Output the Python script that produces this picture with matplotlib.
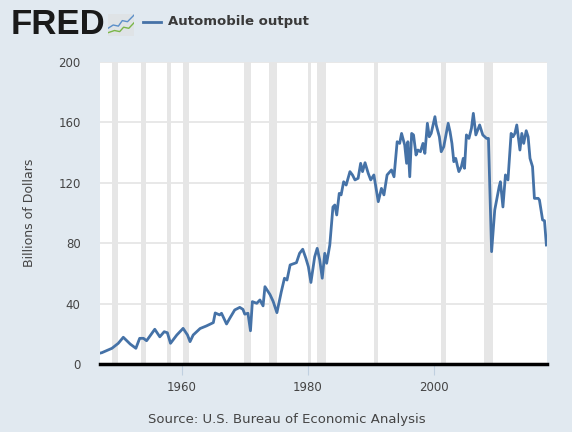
import numpy as np
import matplotlib.pyplot as plt

# Automobile output, billions of dollars
years = [1947.0, 1947.3, 1948.9, 1949.9, 1950.7, 1951.8, 1952.7, 1953.3, 1953.9, 1954.4,
         1955.7, 1956.5, 1957.2, 1957.7, 1958.2, 1959.2, 1960.2, 1960.9, 1961.3, 1961.8,
         1962.9, 1963.9, 1965.0, 1965.3, 1966.0, 1966.3, 1967.1, 1967.6, 1968.4, 1969.2,
         1969.7, 1970.0, 1970.5, 1970.9, 1971.2, 1971.9, 1972.4, 1972.9, 1973.2, 1974.0,
         1974.5, 1975.1, 1975.8, 1976.3, 1976.7, 1977.2, 1978.2, 1978.7, 1979.2, 1979.7,
         1980.1, 1980.5, 1981.1, 1981.5, 1981.9, 1982.3, 1982.7, 1983.0, 1983.5, 1984.0,
         1984.3, 1984.6, 1985.0, 1985.3, 1985.7, 1986.1, 1986.7, 1987.1, 1987.5, 1988.0,
         1988.4, 1988.7, 1989.1, 1989.6, 1990.0, 1990.5, 1990.9, 1991.2, 1991.7, 1992.1,
         1992.6, 1993.3, 1993.7, 1994.2, 1994.6, 1994.9, 1995.4, 1995.7, 1995.9, 1996.2,
         1996.5, 1996.8, 1997.2, 1997.5, 1997.9, 1998.3, 1998.6, 1999.0, 1999.3, 1999.6,
         2000.2, 2000.4, 2000.9, 2001.2, 2001.6, 2001.9, 2002.3, 2002.6, 2002.9, 2003.2,
         2003.5, 2003.8, 2004.0, 2004.4, 2004.7, 2004.9, 2005.2, 2005.6, 2006.0, 2006.3,
         2006.7, 2007.3, 2007.8, 2008.4, 2008.7, 2009.2, 2009.7, 2010.4, 2010.6, 2011.0,
         2011.4, 2011.8, 2012.3, 2012.6, 2012.9, 2013.2, 2013.7, 2014.0, 2014.3, 2014.7,
         2015.0, 2015.3, 2015.7, 2016.0, 2016.6, 2016.8, 2017.3, 2017.6, 2017.9]
output = [7.2, 7.5, 10.4, 13.7, 17.7, 13.2, 10.4, 17.0, 17.0, 15.4,
          23.0, 18.0, 21.4, 20.7, 13.7, 19.2, 23.6, 19.2, 14.8, 19.2,
          23.5, 25.2, 27.4, 33.8, 32.5, 33.6, 26.5, 30.2, 35.8, 37.5,
          36.2, 33.0, 33.6, 22.0, 41.3, 40.2, 42.4, 38.5, 51.2, 46.0,
          41.5, 34.0, 47.9, 56.8, 55.6, 65.6, 67.1, 73.3, 76.0, 70.0,
          64.4, 54.0, 71.0, 76.6, 68.9, 56.8, 73.3, 66.7, 78.8, 104.0,
          105.3, 98.7, 113.0, 112.0, 120.7, 118.5, 127.4, 125.2, 121.9, 123.0,
          132.9, 127.4, 133.3, 126.3, 121.9, 125.2, 115.2, 107.5, 116.3, 112.0,
          125.2, 128.5, 124.0, 147.2, 146.1, 152.7, 145.0, 132.9, 147.2, 124.0,
          152.7, 151.7, 138.4, 141.7, 140.6, 146.1, 139.5, 159.4, 150.5, 152.7,
          163.8, 158.3, 150.5, 140.6, 143.9, 150.5, 159.4, 153.8, 146.1, 134.0,
          136.2, 130.7, 127.4, 130.7, 136.2, 129.6, 151.7, 149.4, 156.1, 166.0,
          151.7, 158.3, 151.7, 149.4, 149.4, 74.4, 102.0, 117.4, 120.7, 104.0,
          125.2, 121.9, 152.7, 150.5, 152.7, 158.3, 141.7, 152.7, 146.1, 154.5,
          150.5, 136.2, 130.7, 109.7, 109.7, 108.6, 95.4, 94.9, 78.8]

# NBER recessions (start, end)
rec_start = [1948.83, 1953.5, 1957.58, 1960.25, 1969.92, 1973.83, 1980.0, 1981.5, 1990.5, 2001.17, 2007.92]
rec_end = [1949.83, 1954.33, 1958.33, 1961.08, 1970.92, 1975.17, 1980.5, 1982.83, 1991.17, 2001.92, 2009.5]

xticks = [1960, 1980, 2000]
yticks = [0, 40, 80, 120, 160, 200]

bg = '#e1e9f0'
txt = '#444444'
plt.rcParams['font.family'] = ['DejaVu Sans']
fig = plt.figure(figsize=(5.72, 4.32), dpi=100, facecolor=bg)

ax = fig.add_axes([100 / 572, 68 / 432, 447 / 572, 302 / 432])
ax.set_facecolor('white')

for s, e in zip(rec_start, rec_end):
    ax.axvspan(s, e, color='#e6e6e6', lw=0, zorder=1)

ax.plot(years, output, color='#4572a7', lw=2, zorder=3, solid_joinstyle='round')

ax.set_xlim(1947, 2018)
ax.set_ylim(0, 200)
ax.set_xticks(xticks)
ax.set_yticks(yticks)
ax.grid(axis='y', color='#e6e6e6', lw=1.3, zorder=0)
ax.set_axisbelow(True)

for side in ['top', 'right', 'left']:
    ax.spines[side].set_visible(False)
ax.spines['bottom'].set_linewidth(2.5)
ax.spines['bottom'].set_color('black')
ax.spines['bottom'].set_zorder(4)

ax.tick_params(axis='x', length=8, width=0.8, color='#c0d0e0', labelsize=8.5,
               labelcolor=txt, pad=4)
ax.tick_params(axis='y', length=0, labelsize=8.5, labelcolor=txt, pad=14)
ax.set_ylabel('Billions of Dollars', fontsize=9, color=txt, labelpad=16)

# header: FRED logo and legend
fig.text(11 / 572, 1 - 24 / 432, 'FRED', fontsize=25, fontweight='bold', color='#1a1a1a',
         va='center', ha='left', family='Liberation Sans')
icon = fig.add_axes([108 / 572, 1 - 36 / 432, 26 / 572, 22 / 432])
icon.set_facecolor('#dfe3e6')
icon.plot([0, 0.2, 0.4, 0.55, 0.75, 1], [0.35, 0.5, 0.45, 0.7, 0.65, 0.95], color='#5b8fc9', lw=1)
icon.plot([0, 0.25, 0.45, 0.6, 0.8, 1], [0.15, 0.25, 0.2, 0.4, 0.35, 0.6], color='#7ab648', lw=1)
icon.set_xlim(0, 1)
icon.set_ylim(0, 1)
icon.set_xticks([])
icon.set_yticks([])
for sp in icon.spines.values():
    sp.set_visible(False)

fig.add_artist(plt.Line2D([143 / 572, 161 / 572], [1 - 22 / 432, 1 - 22 / 432],
                          color='#4572a7', lw=2))
fig.text(168 / 572, 1 - 22 / 432, 'Automobile output', fontsize=9.5, fontweight='bold',
         color='#3a3a3a', va='center', ha='left')

fig.text(287 / 572, 1 - 420 / 432, 'Source: U.S. Bureau of Economic Analysis', fontsize=9.5,
         color=txt, ha='center', va='center')

fig.savefig('out.png', dpi=100, facecolor=bg)
